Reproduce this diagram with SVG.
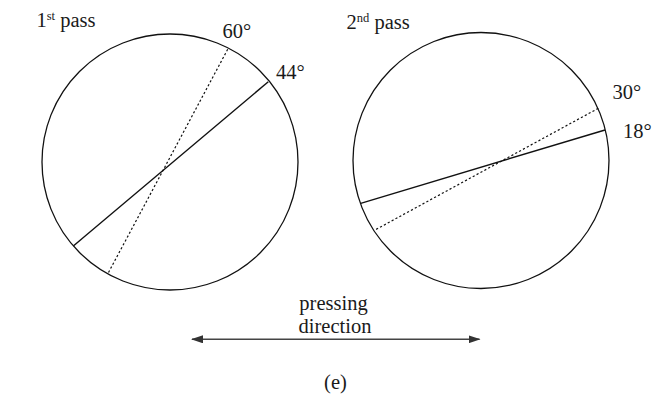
<svg xmlns="http://www.w3.org/2000/svg" width="667" height="399" viewBox="0 0 667 399">
<defs>
<style>
.t{font-size:20.5px;fill:#1a1a1a}
.sup{font-size:12.5px}
.c{fill:none;stroke:#111;stroke-width:1.3}
.s{stroke:#111;stroke-width:1.4}
.d{stroke:#111;stroke-width:1.2;stroke-dasharray:2.2 2.2}
.a{stroke:#444;stroke-width:1.6}
</style>
<marker id="ah" viewBox="0 0 12 8" refX="11" refY="4" markerWidth="12" markerHeight="8" markerUnits="userSpaceOnUse" orient="auto-start-reverse">
<path d="M0,0 L12,4 L0,8 Z" fill="#333"/>
</marker>
</defs>
<rect width="667" height="399" fill="#fff"/>
<g font-family="Liberation Serif, DejaVu Serif, serif">
<g id="pass1">
<circle class="c" cx="170" cy="162" r="128"/>
<line class="s" x1="268.3" y1="81.7" x2="73.3" y2="246"/>
<line class="d" x1="227.7" y1="49.3" x2="107.7" y2="274"/>
<text class="t" x="36.5" y="27">1<tspan class="sup" dy="-7">st</tspan><tspan dy="7"> pass</tspan></text>
<text class="t" x="222.5" y="37.5">60°</text>
<text class="t" x="276" y="79">44°</text>
</g>
<g id="pass2">
<circle class="c" cx="481" cy="160.5" r="128"/>
<line class="s" x1="605" y1="130" x2="360.7" y2="203.3"/>
<line class="d" x1="598.3" y1="108.3" x2="375" y2="230"/>
<text class="t" x="346.5" y="28.5">2<tspan class="sup" dy="-7">nd</tspan><tspan dy="7"> pass</tspan></text>
<text class="t" x="612.5" y="99">30°</text>
<text class="t" x="623" y="137.5">18°</text>
</g>
<g id="connectors">
<line class="a" x1="192" y1="339.3" x2="479.5" y2="339.3" marker-start="url(#ah)" marker-end="url(#ah)"/>
</g>
<g id="labels">
<text class="t" x="333.5" y="309.5" text-anchor="middle">pressing</text>
<text class="t" x="335" y="332.5" text-anchor="middle">direction</text>
<text class="t" x="335.5" y="389" text-anchor="middle">(e)</text>
</g>
</g>
</svg>
